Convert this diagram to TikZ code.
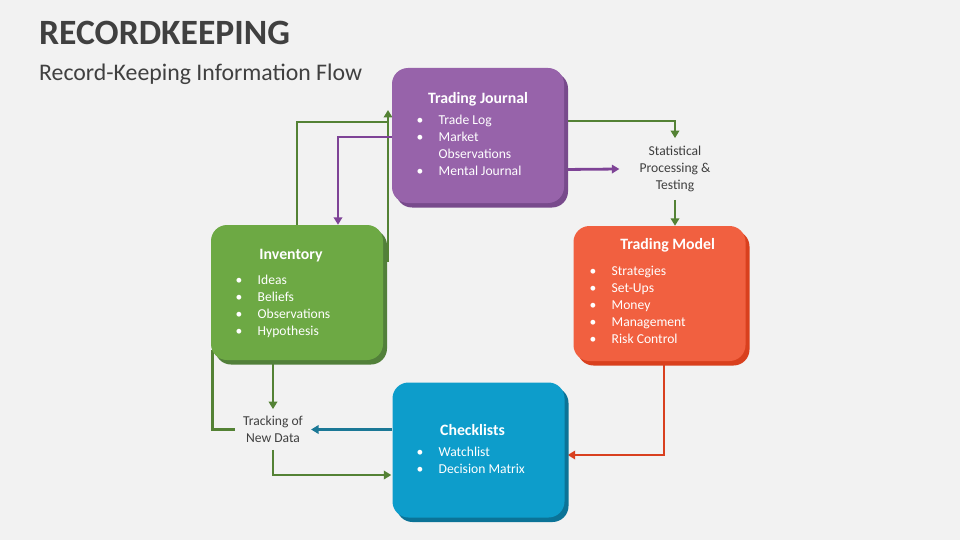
\documentclass[tikz,border=0pt]{standalone}
\usepackage{fontspec}
\setmainfont{Carlito}
\usetikzlibrary{arrows.meta,shadows,calc}
\pgfdeclarelayer{bg}
\pgfsetlayers{bg,main}
\definecolor{bgc}{HTML}{F2F2F2}
\definecolor{txt}{HTML}{404040}
\definecolor{purp}{HTML}{9763AA}
\definecolor{purpd}{HTML}{784A8C}
\definecolor{grn}{HTML}{6DA944}
\definecolor{grnd}{HTML}{52803A}
\definecolor{org}{HTML}{F16040}
\definecolor{orgd}{HTML}{D9401E}
\definecolor{blu}{HTML}{0D9DCB}
\definecolor{blud}{HTML}{0B7397}
\definecolor{gline}{HTML}{548235}
\definecolor{pline}{HTML}{7E4396}
\definecolor{oline}{HTML}{D9401F}
\definecolor{bline}{HTML}{1B7896}
\newcommand{\mybl}[1]{\begin{tabular}[t]{@{}p{22pt}@{}l@{}}#1\end{tabular}}
\begin{document}
\begin{tikzpicture}[x=1pt,y=-1pt,
  box/.style={rounded corners=16pt, minimum width=172pt, minimum height=135pt, inner sep=0pt,
    general shadow={fill=#1, shadow xshift=4pt, shadow yshift=-4.5pt}},
  ttl/.style={anchor=base, font=\fontsize{15.8}{17}\selectfont\bfseries, text=white, inner sep=0pt},
  lst/.style={anchor=base west, font=\fontsize{13.6}{17}\selectfont, text=white, inner sep=0pt},
  lbl/.style={align=center, font=\fontsize{13.6}{16.8}\selectfont, text=txt},
  conn/.style={line width=2.8pt},
  arr/.style={-{Triangle[length=7.5pt,width=8.5pt]}}]
\useasboundingbox (0,0) rectangle (960,540);
\begin{pgfonlayer}{bg}
\fill[bgc] (0,0) rectangle (960,540);
\end{pgfonlayer}

% titles
\node[anchor=base west, inner sep=0pt, text=txt, font=\fontsize{35.6}{40}\selectfont\bfseries] (title) at (39,45) {RECORDKEEPING};
\node[anchor=base west, inner sep=0pt, text=txt, font=\fontsize{23.8}{28}\selectfont] (sub) at (39,81) {Record-Keeping Information Flow};

% boxes
\node[box=purpd, fill=purp] (tj) at (478,135.5) {};
\node[box=grnd, fill=grn] (inv) at (297,292.5) {};
\node[box=orgd, fill=org] (tm) at (659.5,293.5) {};
\node[box=blud, fill=blu] (cl) at (478.5,450) {};

% box texts
\node[ttl] (tjt) at (478,103.3) {Trading Journal};
\node[lst] (tjl) at (416.5,125) {\mybl{\textbullet & Trade Log\\ \textbullet & Market\\ & Observations\\ \textbullet & Mental Journal}};
\node[ttl] (invt) at (291,259) {Inventory};
\node[lst] (invl) at (235.5,284) {\mybl{\textbullet & Ideas\\ \textbullet & Beliefs\\ \textbullet & Observations\\ \textbullet & Hypothesis}};
\node[ttl] (tmt) at (667.7,249.3) {Trading Model};
\node[lst] (tml) at (589.5,275) {\mybl{\textbullet & Strategies\\ \textbullet & Set-Ups\\ \textbullet & Money\\ \textbullet & Management\\ \textbullet & Risk Control}};
\node[ttl] (clt) at (472.5,435) {Checklists};
\node[lst] (cll) at (416.5,456.7) {\mybl{\textbullet & Watchlist\\ \textbullet & Decision Matrix}};

% free labels
\node[lbl, inner xsep=20pt, inner ysep=8pt] (stat) at (675,169) {Statistical\\Processing \&\\Testing};
\node[lbl, inner xsep=8pt, inner ysep=7pt] (trk) at (273,429.5) {Tracking of\\New Data};

% free ends
\coordinate (j1) at (388,122);
\coordinate (i1) at (388,262);
\coordinate (j2) at (388,110);

\begin{pgfonlayer}{bg}
\draw[conn,gline] (inv.north) |- (j1);
\draw[conn,gline,arr] (i1) -- (j2);
\draw[conn,pline,arr] ($(tj.west)+(0,1.5)$) -| ($(inv.north)+(41,0)$);
\draw[conn,pline,arr] ($(tj.east)+(0,34)$) -- (stat.west);
\draw[conn,gline,arr] ($(tj.east)+(0,-14.5)$) -| (stat.north);
\draw[conn,gline,arr] (stat.south) -- (stat.south |- tm.north);
\draw[conn,oline,arr] ($(tm.south)+(4.5,0)$) |- ($(cl.east)+(3,5)$);
\draw[conn,bline,arr] (cl.west |- trk.east) -- (trk.east);
\draw[conn,gline,arr] (trk.north |- inv.south) -- (trk.north);
\draw[conn,gline] ($(inv.south west)+(2,-10)$) |- (trk.west);
\draw[conn,gline,arr] (trk.south) |- ($(cl.west)+(-1,25)$);
\end{pgfonlayer}
\end{tikzpicture}
\end{document}
